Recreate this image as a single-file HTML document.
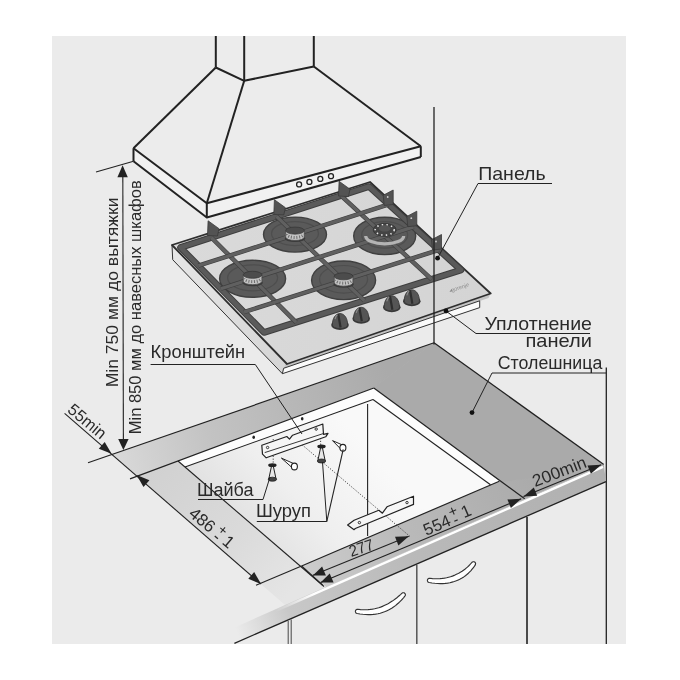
<!DOCTYPE html>
<html><head><meta charset="utf-8"><style>
html,body{margin:0;padding:0;background:#fff;width:680px;height:680px;overflow:hidden}
svg{display:block;filter:grayscale(1)}
</style></head><body>
<svg width="680" height="680" viewBox="0 0 680 680">
<rect x="0" y="0" width="680" height="680" fill="#fff"/>
<rect x="52" y="36" width="574" height="608" fill="#ebebeb"/>
<defs>
<clipPath id="clipBG"><rect x="52" y="36" width="574" height="608"/></clipPath>
<linearGradient id="gTop" gradientUnits="userSpaceOnUse" x1="130" y1="465" x2="285" y2="600">
<stop offset="0" stop-color="#cfcfcf"/><stop offset="0.6" stop-color="#dadada"/><stop offset="1" stop-color="#e5e5e5"/></linearGradient>
<linearGradient id="gBack" gradientUnits="userSpaceOnUse" x1="110" y1="460" x2="390" y2="380">
<stop offset="0" stop-color="#dadada"/><stop offset="0.35" stop-color="#c3c3c3"/><stop offset="1" stop-color="#aaaaaa"/></linearGradient>
<linearGradient id="gFront" gradientUnits="userSpaceOnUse" x1="270" y1="600" x2="540" y2="480">
<stop offset="0" stop-color="#d4d4d4"/><stop offset="0.5" stop-color="#bababa"/><stop offset="1" stop-color="#aaaaaa"/></linearGradient>
<linearGradient id="gFace" gradientUnits="userSpaceOnUse" x1="236" y1="630" x2="600" y2="475">
<stop offset="0" stop-color="#ebebeb"/><stop offset="0.14" stop-color="#c8c8c8"/><stop offset="0.5" stop-color="#b9b9b9"/><stop offset="1" stop-color="#b0b0b0"/></linearGradient>
<linearGradient id="gHL" gradientUnits="userSpaceOnUse" x1="275" y1="612" x2="603" y2="467">
<stop offset="0" stop-color="#fff" stop-opacity="0"/><stop offset="0.12" stop-color="#fff" stop-opacity="1"/><stop offset="1" stop-color="#fff"/></linearGradient>
<linearGradient id="gCut" gradientUnits="userSpaceOnUse" x1="230" y1="580" x2="370" y2="450">
<stop offset="0" stop-color="#d8d8d8"/><stop offset="0.55" stop-color="#efefef"/><stop offset="1" stop-color="#f9f9f9"/></linearGradient>
<linearGradient id="gHobSide" gradientUnits="userSpaceOnUse" x1="172" y1="250" x2="290" y2="370">
<stop offset="0" stop-color="#e6e6e6"/><stop offset="1" stop-color="#d4d4d4"/></linearGradient>
<linearGradient id="gHobTop" gradientUnits="userSpaceOnUse" x1="180" y1="250" x2="480" y2="290">
<stop offset="0" stop-color="#dadada"/><stop offset="1" stop-color="#d4d4d4"/></linearGradient>
</defs>
<g clip-path="url(#clipBG)">
<line x1="606.3" y1="367.5" x2="606.3" y2="644.0" stroke="#222" stroke-width="1.3" />
<polygon points="112.0,454.5 434.0,342.8 603.8,464.5 285.3,605.2" fill="url(#gTop)" stroke="none" stroke-width="1" stroke-linejoin="round" />
<polygon points="112.0,454.5 434.0,342.8 373.8,388.0 136.9,476.3" fill="url(#gBack)" stroke="none" stroke-width="1" stroke-linejoin="round" />
<polygon points="301.6,566.0 500.8,480.6 603.8,464.5 326.4,587.1" fill="url(#gFront)" stroke="none" stroke-width="1" stroke-linejoin="round" />
<polygon points="372.3,388.5 432.5,343.3 434.0,342.8 603.8,464.5 602.8,465.7 500.3,482.4" fill="#aaaaaa" stroke="none" stroke-width="1" stroke-linejoin="round" />
<polygon points="178.0,461.0 373.8,388.0 499.3,481.2 301.6,566.0" fill="url(#gCut)" stroke="none" stroke-width="1" stroke-linejoin="round" />
<polygon points="178.0,461.0 373.8,388.0 373.0,399.5 185.0,467.0" fill="#fdfdfd" stroke="none" stroke-width="1" stroke-linejoin="round" />
<polygon points="373.8,388.0 499.3,481.2 490.5,484.8 373.0,399.5" fill="#fdfdfd" stroke="none" stroke-width="1" stroke-linejoin="round" />
<line x1="185.0" y1="467.0" x2="373.0" y2="399.5" stroke="#222" stroke-width="1.1" />
<line x1="373.0" y1="399.5" x2="490.5" y2="484.8" stroke="#222" stroke-width="1.1" />
<line x1="367.6" y1="404.0" x2="367.6" y2="536.0" stroke="#222" stroke-width="1.1" />
<line x1="88.0" y1="462.8" x2="434.0" y2="342.8" stroke="#222" stroke-width="1.2" />
<line x1="434.0" y1="342.8" x2="603.8" y2="464.5" stroke="#222" stroke-width="1.3" />
<line x1="130.0" y1="478.9" x2="373.8" y2="388.0" stroke="#222" stroke-width="1.2" />
<line x1="373.8" y1="388.0" x2="524.7" y2="498.8" stroke="#222" stroke-width="1.2" />
<line x1="301.6" y1="566.0" x2="499.3" y2="481.2" stroke="#222" stroke-width="1.2" />
<line x1="178.0" y1="461.0" x2="324.0" y2="586.5" stroke="#222" stroke-width="1.1" />
<line x1="256.0" y1="585.3" x2="301.6" y2="566.0" stroke="#222" stroke-width="1.1" />
<polygon points="603.8,464.5 606.0,481.7 234.0,643.5 234.0,627.7" fill="url(#gFace)" stroke="none" stroke-width="1" stroke-linejoin="round" />
<line x1="275.6" y1="610.9" x2="603" y2="466.9" stroke="url(#gHL)" stroke-width="2.4"/>
<line x1="234.4" y1="643.3" x2="606.0" y2="481.7" stroke="#222" stroke-width="1.3" />
<line x1="527.0" y1="517.1" x2="527.0" y2="644.0" stroke="#4a4a4a" stroke-width="2.0" />
<line x1="416.8" y1="565.0" x2="416.8" y2="644.0" stroke="#555" stroke-width="1.5" />
<line x1="288.2" y1="620.9" x2="288.2" y2="644.0" stroke="#555" stroke-width="1.1" />
<line x1="291.2" y1="619.6" x2="291.2" y2="644.0" stroke="#555" stroke-width="1.1" />
<polygon points="429.2,582.5 432.0,583.0 434.8,583.3 437.5,583.5 440.1,583.6 442.7,583.6 445.2,583.4 447.6,583.1 449.9,582.7 452.1,582.1 454.3,581.5 456.3,580.8 458.3,579.9 460.2,579.0 462.0,578.0 463.8,576.9 465.4,575.7 466.9,574.5 468.4,573.2 469.7,571.9 471.0,570.6 472.1,569.2 473.2,567.8 474.3,566.4 475.2,565.1 475.5,564.3 475.6,563.5 475.3,562.7 474.8,562.1 474.0,561.8 473.2,561.7 472.4,562.0 471.8,562.5 470.8,563.7 469.7,564.8 468.6,566.0 467.4,567.1 466.2,568.1 464.9,569.2 463.5,570.2 462.1,571.2 460.7,572.1 459.2,573.0 457.6,573.8 455.9,574.6 454.2,575.4 452.4,576.1 450.5,576.7 448.6,577.2 446.6,577.7 444.5,578.1 442.3,578.4 440.0,578.6 437.6,578.7 435.1,578.7 432.5,578.6 429.8,578.3 429.0,578.4 428.2,578.7 427.7,579.3 427.4,580.1 427.5,580.9 427.8,581.7 428.4,582.2" fill="#fff" stroke="#333" stroke-width="1.15" stroke-linejoin="round" />
<polygon points="357.2,613.5 360.0,614.0 362.8,614.3 365.5,614.5 368.1,614.6 370.7,614.6 373.2,614.4 375.6,614.1 377.9,613.7 380.2,613.2 382.4,612.5 384.5,611.8 386.5,610.9 388.5,610.0 390.3,609.0 392.1,607.9 393.8,606.8 395.5,605.6 397.0,604.3 398.5,603.0 399.9,601.7 401.2,600.3 402.5,599.0 403.7,597.6 404.8,596.2 405.3,595.5 405.4,594.7 405.2,593.9 404.7,593.3 404.0,592.8 403.2,592.7 402.4,592.9 401.8,593.4 400.5,594.6 399.2,595.7 397.9,596.8 396.6,598.0 395.2,599.0 393.7,600.1 392.3,601.1 390.7,602.1 389.2,603.1 387.6,604.0 385.9,604.8 384.2,605.6 382.4,606.4 380.6,607.1 378.7,607.7 376.7,608.2 374.6,608.7 372.5,609.1 370.3,609.4 368.0,609.6 365.6,609.7 363.1,609.7 360.5,609.6 357.8,609.3 357.0,609.4 356.2,609.7 355.7,610.3 355.4,611.1 355.5,611.9 355.8,612.7 356.4,613.2" fill="#fff" stroke="#333" stroke-width="1.15" stroke-linejoin="round" />
<polygon points="215.8,36.0 313.8,36.0 313.8,66.5 420.8,146.2 420.8,157.0 206.8,217.5 133.5,161.2 133.5,148.2 215.8,67.5" fill="#ececec" stroke="none" stroke-width="1" stroke-linejoin="round" />
<polygon points="133.5,148.2 206.8,203.2 420.8,146.2 420.8,157.0 206.8,217.5 133.5,161.2" fill="#f1f1f1" stroke="none" stroke-width="1" stroke-linejoin="round" />
<line x1="215.8" y1="36.0" x2="215.8" y2="67.5" stroke="#222" stroke-width="2.0" />
<line x1="244.2" y1="36.0" x2="244.2" y2="80.8" stroke="#222" stroke-width="2.0" />
<line x1="313.8" y1="36.0" x2="313.8" y2="66.5" stroke="#222" stroke-width="2.0" />
<polyline points="215.8,67.5 244.2,80.8 313.8,66.5" fill="none" stroke="#222" stroke-width="2.0" stroke-linejoin="round" />
<line x1="215.8" y1="67.5" x2="133.5" y2="148.2" stroke="#222" stroke-width="2.0" />
<line x1="244.2" y1="80.8" x2="206.8" y2="203.2" stroke="#222" stroke-width="2.0" />
<line x1="313.8" y1="66.5" x2="420.8" y2="146.2" stroke="#222" stroke-width="2.0" />
<polyline points="133.5,148.2 206.8,203.2 420.8,146.2" fill="none" stroke="#222" stroke-width="2.0" stroke-linejoin="round" />
<polyline points="133.5,161.2 206.8,217.5 420.8,157.0" fill="none" stroke="#222" stroke-width="2.0" stroke-linejoin="round" />
<line x1="133.5" y1="148.2" x2="133.5" y2="161.2" stroke="#222" stroke-width="2.0" />
<line x1="206.8" y1="203.2" x2="206.8" y2="217.5" stroke="#222" stroke-width="2.0" />
<line x1="420.8" y1="146.2" x2="420.8" y2="157.0" stroke="#222" stroke-width="2.0" />
<circle cx="299.1" cy="184.4" r="2.5" fill="none" stroke="#222" stroke-width="1.3"/>
<circle cx="309.4" cy="181.9" r="2.5" fill="none" stroke="#222" stroke-width="1.3"/>
<circle cx="320.3" cy="178.9" r="2.5" fill="none" stroke="#222" stroke-width="1.3"/>
<circle cx="331" cy="176.2" r="2.5" fill="none" stroke="#222" stroke-width="1.3"/>
<polygon points="172.0,245.0 287.0,364.0 282.4,373.7 172.7,259.7" fill="url(#gHobSide)" stroke="#333" stroke-width="1" stroke-linejoin="round" />
<polygon points="285.3,364.0 490.7,293.5 488.5,298.0 284.5,368.5" fill="#c4c4c4" stroke="none" stroke-width="1" stroke-linejoin="round" />
<polygon points="283.6,368.3 479.7,300.8 479.7,307.6 282.4,373.7" fill="#fbfbfb" stroke="#333" stroke-width="1" stroke-linejoin="round" />
<polygon points="172.0,245.0 370.0,182.0 490.7,293.5 287.0,364.0" fill="url(#gHobTop)" stroke="#2e2e2e" stroke-width="1.8" stroke-linejoin="round" />
<ellipse cx="252.6" cy="278.8" rx="33" ry="18.5" fill="#5a5a5a" stroke="#404040" stroke-width="1.4"/>
<ellipse cx="252.6" cy="277.8" rx="25" ry="13.0" fill="none" stroke="#4e4e4e" stroke-width="1.2"/>
<ellipse cx="295" cy="234.6" rx="31.5" ry="17.5" fill="#5a5a5a" stroke="#404040" stroke-width="1.4"/>
<ellipse cx="295" cy="233.6" rx="23.5" ry="12.0" fill="none" stroke="#4e4e4e" stroke-width="1.2"/>
<ellipse cx="384.7" cy="235.9" rx="31" ry="18.7" fill="#5a5a5a" stroke="#404040" stroke-width="1.4"/>
<ellipse cx="384.7" cy="234.9" rx="23" ry="13.2" fill="none" stroke="#4e4e4e" stroke-width="1.2"/>
<ellipse cx="343.6" cy="280.3" rx="32" ry="19.3" fill="#5a5a5a" stroke="#404040" stroke-width="1.4"/>
<ellipse cx="343.6" cy="279.3" rx="24" ry="13.8" fill="none" stroke="#4e4e4e" stroke-width="1.2"/>
<polygon points="180.5,247.5 369.0,186.5 461.0,270.0 264.0,332.5" fill="none" stroke="#3e3e3e" stroke-width="6.6" stroke-linejoin="round" />
<polygon points="180.5,247.5 369.0,186.5 461.0,270.0 264.0,332.5" fill="none" stroke="#5a5a5a" stroke-width="4.6" stroke-linejoin="round" />
<line x1="211.3" y1="237.5" x2="296.2" y2="322.3" stroke="#3e3e3e" stroke-width="4.5" stroke-linecap="butt"/>
<line x1="211.3" y1="237.5" x2="296.2" y2="322.3" stroke="#606060" stroke-width="3.3" stroke-linecap="butt"/>
<line x1="276.5" y1="216.4" x2="364.4" y2="300.7" stroke="#3e3e3e" stroke-width="4.5" stroke-linecap="butt"/>
<line x1="276.5" y1="216.4" x2="364.4" y2="300.7" stroke="#606060" stroke-width="3.3" stroke-linecap="butt"/>
<line x1="341.0" y1="195.6" x2="431.7" y2="279.3" stroke="#3e3e3e" stroke-width="4.5" stroke-linecap="butt"/>
<line x1="341.0" y1="195.6" x2="431.7" y2="279.3" stroke="#606060" stroke-width="3.3" stroke-linecap="butt"/>
<line x1="198.4" y1="265.7" x2="388.7" y2="204.4" stroke="#3e3e3e" stroke-width="4.5" stroke-linecap="butt"/>
<line x1="198.4" y1="265.7" x2="388.7" y2="204.4" stroke="#606060" stroke-width="3.3" stroke-linecap="butt"/>
<line x1="220.9" y1="288.7" x2="413.6" y2="226.9" stroke="#3e3e3e" stroke-width="4.5" stroke-linecap="butt"/>
<line x1="220.9" y1="288.7" x2="413.6" y2="226.9" stroke="#606060" stroke-width="3.3" stroke-linecap="butt"/>
<line x1="243.9" y1="312.1" x2="438.9" y2="249.9" stroke="#3e3e3e" stroke-width="4.5" stroke-linecap="butt"/>
<line x1="243.9" y1="312.1" x2="438.9" y2="249.9" stroke="#606060" stroke-width="3.3" stroke-linecap="butt"/>
<polygon points="207.5,235.5 208.1,220.8 219.0,228.7 217.5,236.0" fill="#535353" stroke="#3a3a3a" stroke-width="0.8" stroke-linejoin="round" />
<polygon points="273.8,214.4 274.4,199.7 285.3,207.6 283.8,214.9" fill="#535353" stroke="#3a3a3a" stroke-width="0.8" stroke-linejoin="round" />
<polygon points="338.5,196.0 339.1,181.3 350.0,189.2 348.5,196.5" fill="#535353" stroke="#3a3a3a" stroke-width="0.8" stroke-linejoin="round" />
<polygon points="393.2,204.5 393.2,190.0 383.2,195.3 384.2,205.5" fill="#535353" stroke="#3a3a3a" stroke-width="0.8" stroke-linejoin="round" />
<circle cx="387.7" cy="197.0" r="0.9" fill="#cfcfcf"/>
<polygon points="416.8,225.7 416.8,211.2 406.8,216.5 407.8,226.7" fill="#535353" stroke="#3a3a3a" stroke-width="0.8" stroke-linejoin="round" />
<circle cx="411.3" cy="218.2" r="0.9" fill="#cfcfcf"/>
<polygon points="441.5,249.0 441.5,234.5 431.5,239.8 432.5,250.0" fill="#535353" stroke="#3a3a3a" stroke-width="0.8" stroke-linejoin="round" />
<circle cx="436.0" cy="241.5" r="0.9" fill="#cfcfcf"/>
<ellipse cx="252.6" cy="282.7" rx="10.3" ry="3.5340000000000003" fill="#3a3a3a"/>
<path d="M243.29999999999998,274.8 L243.29999999999998,281.3 A9.3,3.3480000000000003 0 0 0 261.9,281.3 L261.9,274.8Z" fill="#c4c4c4" stroke="#444" stroke-width="0.7"/>
<path d="M244.29999999999998,278.3 A8.3,3.3480000000000003 0 0 0 260.9,278.3" fill="none" stroke="#6e6e6e" stroke-width="3" stroke-dasharray="1 1.7"/>
<ellipse cx="252.6" cy="274.8" rx="9.3" ry="3.5340000000000003" fill="#4c4c4c" stroke="#333" stroke-width="0.7"/>
<ellipse cx="295" cy="238.5" rx="10.3" ry="3.5340000000000003" fill="#3a3a3a"/>
<path d="M285.7,230.6 L285.7,237.1 A9.3,3.3480000000000003 0 0 0 304.3,237.1 L304.3,230.6Z" fill="#c4c4c4" stroke="#444" stroke-width="0.7"/>
<path d="M286.7,234.1 A8.3,3.3480000000000003 0 0 0 303.3,234.1" fill="none" stroke="#6e6e6e" stroke-width="3" stroke-dasharray="1 1.7"/>
<ellipse cx="295" cy="230.6" rx="9.3" ry="3.5340000000000003" fill="#4c4c4c" stroke="#333" stroke-width="0.7"/>
<path d="M365.7,235.9 A19,8 0 0 0 403.7,235.9" fill="none" stroke="#b4b4b4" stroke-width="3.2"/>
<ellipse cx="384.7" cy="229.9" rx="11.5" ry="6.51" fill="#444" stroke="#333" stroke-width="0.8"/>
<ellipse cx="384.7" cy="229.9" rx="9.5" ry="5.25" fill="none" stroke="#e6e6e6" stroke-width="1.6" stroke-dasharray="1.4 3.2"/>
<ellipse cx="384.7" cy="228.4" rx="5.775" ry="3.15" fill="#555"/>
<ellipse cx="343.6" cy="284.2" rx="10.3" ry="3.5340000000000003" fill="#3a3a3a"/>
<path d="M334.3,276.3 L334.3,282.8 A9.3,3.3480000000000003 0 0 0 352.90000000000003,282.8 L352.90000000000003,276.3Z" fill="#c4c4c4" stroke="#444" stroke-width="0.7"/>
<path d="M335.3,279.8 A8.3,3.3480000000000003 0 0 0 351.90000000000003,279.8" fill="none" stroke="#6e6e6e" stroke-width="3" stroke-dasharray="1 1.7"/>
<ellipse cx="343.6" cy="276.3" rx="9.3" ry="3.5340000000000003" fill="#4c4c4c" stroke="#333" stroke-width="0.7"/>
<ellipse cx="340" cy="325.0" rx="8.8" ry="5" fill="#3a3a3a"/>
<path d="M332.4,325.0 C332.2,318.5 335.5,313.5 340,313.5 C344.5,313.5 347.8,318.5 347.6,325.0 A7.6,3.6 0 0 1 332.4,325.0Z" fill="#555" stroke="#363636" stroke-width="0.8"/>
<path d="M338.2,314.0 L340.6,327.5" stroke="#2e2e2e" stroke-width="2.2"/>
<path d="M335,319.0 Q335.8,315.7 337.4,314.7" stroke="#8c8c8c" stroke-width="1.1" fill="none"/>
<ellipse cx="361.2" cy="318.8" rx="8.8" ry="5" fill="#3a3a3a"/>
<path d="M353.59999999999997,318.8 C353.4,312.3 356.7,307.3 361.2,307.3 C365.7,307.3 369.0,312.3 368.8,318.8 A7.6,3.6 0 0 1 353.59999999999997,318.8Z" fill="#555" stroke="#363636" stroke-width="0.8"/>
<path d="M359.4,307.8 L361.8,321.3" stroke="#2e2e2e" stroke-width="2.2"/>
<path d="M356.2,312.8 Q357.0,309.5 358.59999999999997,308.5" stroke="#8c8c8c" stroke-width="1.1" fill="none"/>
<ellipse cx="391.8" cy="307.3" rx="8.8" ry="5" fill="#3a3a3a"/>
<path d="M384.2,307.3 C384.0,300.8 387.3,295.8 391.8,295.8 C396.3,295.8 399.6,300.8 399.40000000000003,307.3 A7.6,3.6 0 0 1 384.2,307.3Z" fill="#555" stroke="#363636" stroke-width="0.8"/>
<path d="M390.0,296.3 L392.40000000000003,309.8" stroke="#2e2e2e" stroke-width="2.2"/>
<path d="M386.8,301.3 Q387.6,298.0 389.2,297.0" stroke="#8c8c8c" stroke-width="1.1" fill="none"/>
<ellipse cx="411.8" cy="301.3" rx="8.8" ry="5" fill="#3a3a3a"/>
<path d="M404.2,301.3 C404.0,294.8 407.3,289.8 411.8,289.8 C416.3,289.8 419.6,294.8 419.40000000000003,301.3 A7.6,3.6 0 0 1 404.2,301.3Z" fill="#555" stroke="#363636" stroke-width="0.8"/>
<path d="M410.0,290.3 L412.40000000000003,303.8" stroke="#2e2e2e" stroke-width="2.2"/>
<path d="M406.8,295.3 Q407.6,292.0 409.2,291.0" stroke="#8c8c8c" stroke-width="1.1" fill="none"/>
<text x="0" y="0" transform="translate(460.0 287.2) rotate(-19)" font-family="Liberation Sans, sans-serif" font-size="5.5" fill="#8a8a8a" text-anchor="middle" dominant-baseline="central">gorenje</text>
<polygon points="449.5,292.0 451.5,288.8 452.6,291.3" fill="#8a8a8a" stroke="none" stroke-width="1" stroke-linejoin="round" />
<line x1="434.0" y1="107.0" x2="434.0" y2="344.5" stroke="#222" stroke-width="1.3" />
<line x1="298" y1="441.3" x2="410" y2="536.5" stroke="#333" stroke-width="0.9" stroke-dasharray="1.2 1.6"/>
<line x1="273.2" y1="439" x2="273.2" y2="466" stroke="#333" stroke-width="0.9" stroke-dasharray="1.2 1.6"/>
<line x1="320.6" y1="426.8" x2="320.6" y2="447" stroke="#333" stroke-width="0.9" stroke-dasharray="1.2 1.6"/>
<ellipse cx="253.7" cy="437.2" rx="1.3" ry="1.8" fill="#222"/>
<ellipse cx="302.2" cy="418.8" rx="1.3" ry="1.8" fill="#222"/>
<polygon points="261.8,445.3 286.8,436.5 289.5,439.2 292.6,435.2 322.8,424.0 323.5,434.3 328.0,433.3 325.7,436.8 266.2,457.8 262.5,454.1" fill="#f6f6f6" stroke="#222" stroke-width="1.2" stroke-linejoin="round" />
<line x1="264.7" y1="452.6" x2="323.5" y2="433.5" stroke="#222" stroke-width="0.9" />
<circle cx="267.6" cy="447.5" r="1.2" fill="none" stroke="#222" stroke-width="0.9"/>
<circle cx="316.2" cy="429.1" r="1.2" fill="none" stroke="#222" stroke-width="0.9"/>
<polygon points="347.6,525.0 354.1,520.3 378.8,510.3 382.4,513.2 387.0,506.8 413.5,496.2 413.5,504.4 355.3,528.5 354.1,529.7" fill="#f6f6f6" stroke="#222" stroke-width="1.2" stroke-linejoin="round" />
<circle cx="359.4" cy="522.6" r="1.2" fill="none" stroke="#222" stroke-width="0.9"/>
<circle cx="407" cy="502.6" r="1.2" fill="none" stroke="#222" stroke-width="0.9"/>
<path d="M271.5,466.2 L273.29999999999995,466.2 L276.0,478.7 L268.79999999999995,478.7Z" fill="#e8e8e8" stroke="#222" stroke-width="1"/>
<ellipse cx="272.4" cy="465.2" rx="4.2" ry="1.9" fill="#222"/>
<ellipse cx="272.4" cy="479.2" rx="4.2" ry="2.0" fill="#444" stroke="#222" stroke-width="0.8"/>
<path d="M320.6,447.5 L322.4,447.5 L325.1,460.5 L317.9,460.5Z" fill="#e8e8e8" stroke="#222" stroke-width="1"/>
<ellipse cx="321.5" cy="446.5" rx="4.2" ry="1.9" fill="#222"/>
<ellipse cx="321.5" cy="461.0" rx="4.2" ry="2.0" fill="#444" stroke="#222" stroke-width="0.8"/>
<path d="M281.4,458.1 L293.1,468.5 L295.7,464.5Z" fill="#fff" stroke="#222" stroke-width="1"/>
<ellipse cx="294.4" cy="466.5" rx="3" ry="3.4" fill="#fff" stroke="#222" stroke-width="1.1"/>
<path d="M332.5,440.6 L341.5,449.8 L344.3,445.8Z" fill="#fff" stroke="#222" stroke-width="1"/>
<ellipse cx="342.9" cy="447.8" rx="3" ry="3.4" fill="#fff" stroke="#222" stroke-width="1.1"/>
<text x="478.2" y="180.0" font-family="Liberation Sans, sans-serif" font-size="18.5" fill="#2a2a2a" text-anchor="start" textLength="67.5" lengthAdjust="spacingAndGlyphs">Панель</text>
<polyline points="552.0,183.5 478.0,183.5 437.6,258.2" fill="none" stroke="#222" stroke-width="1" stroke-linejoin="round" />
<circle cx="437.6" cy="258.2" r="2.4" fill="#111"/>
<text x="484.5" y="330.3" font-family="Liberation Sans, sans-serif" font-size="18.5" fill="#2a2a2a" text-anchor="start" textLength="107.5" lengthAdjust="spacingAndGlyphs">Уплотнение</text>
<text x="525.5" y="346.8" font-family="Liberation Sans, sans-serif" font-size="18.5" fill="#2a2a2a" text-anchor="start" textLength="66.5" lengthAdjust="spacingAndGlyphs">панели</text>
<polyline points="590.0,333.5 476.0,333.5 446.0,311.0" fill="none" stroke="#222" stroke-width="1" stroke-linejoin="round" />
<circle cx="446" cy="311" r="2.4" fill="#111"/>
<text x="497.8" y="368.6" font-family="Liberation Sans, sans-serif" font-size="18.3" fill="#2a2a2a" text-anchor="start" textLength="104.5" lengthAdjust="spacingAndGlyphs">Столешница</text>
<polyline points="606.0,373.0 492.0,373.0 472.0,412.6" fill="none" stroke="#222" stroke-width="1" stroke-linejoin="round" />
<circle cx="472" cy="412.6" r="2.4" fill="#111"/>
<text x="150.6" y="357.8" font-family="Liberation Sans, sans-serif" font-size="18" fill="#2a2a2a" text-anchor="start" textLength="94.6" lengthAdjust="spacingAndGlyphs">Кронштейн</text>
<polyline points="150.6,364.5 255.3,364.5 302.0,434.0" fill="none" stroke="#222" stroke-width="1" stroke-linejoin="round" />
<text x="197.0" y="496.3" font-family="Liberation Sans, sans-serif" font-size="18" fill="#2a2a2a" text-anchor="start" textLength="56.5" lengthAdjust="spacingAndGlyphs">Шайба</text>
<polyline points="198.0,499.5 263.0,499.5 270.0,477.0" fill="none" stroke="#222" stroke-width="1" stroke-linejoin="round" />
<text x="256.0" y="517.2" font-family="Liberation Sans, sans-serif" font-size="18" fill="#2a2a2a" text-anchor="start" textLength="55" lengthAdjust="spacingAndGlyphs">Шуруп</text>
<polyline points="256.8,521.5 326.8,521.5 322.5,462.0" fill="none" stroke="#222" stroke-width="1" stroke-linejoin="round" />
<line x1="326.8" y1="521.5" x2="343.2" y2="449.4" stroke="#222" stroke-width="1.1" />
<line x1="122.8" y1="168.0" x2="123.4" y2="447.0" stroke="#222" stroke-width="1.1" />
<polygon points="122.6,165.3 127.8,177.3 117.4,177.3" fill="#222" stroke="none" stroke-width="1" stroke-linejoin="round" />
<polygon points="123.4,450.1 118.2,439.1 128.6,439.1" fill="#222" stroke="none" stroke-width="1" stroke-linejoin="round" />
<line x1="96.0" y1="172.0" x2="133.5" y2="161.2" stroke="#222" stroke-width="1.1" />
<text x="117.8" y="387.3" font-family="Liberation Sans, sans-serif" font-size="16.5" fill="#2a2a2a" text-anchor="start" textLength="189.8" lengthAdjust="spacingAndGlyphs" transform="rotate(-90 117.8 387.3)">Min 750 мм до вытяжки</text>
<text x="141.0" y="434.3" font-family="Liberation Sans, sans-serif" font-size="16.5" fill="#2a2a2a" text-anchor="start" textLength="254" lengthAdjust="spacingAndGlyphs" transform="rotate(-90 141.0 434.3)">Min 850 мм до навесных шкафов</text>
<line x1="64.6" y1="413.4" x2="261.0" y2="584.0" stroke="#222" stroke-width="1.1" />
<polygon points="111.6,453.8 98.8,448.7 104.7,441.9" fill="#222" stroke="none" stroke-width="1" stroke-linejoin="round" />
<polygon points="136.6,475.1 149.4,480.2 143.5,487.0" fill="#222" stroke="none" stroke-width="1" stroke-linejoin="round" />
<polygon points="261.0,584.0 248.3,578.8 254.2,572.0" fill="#222" stroke="none" stroke-width="1" stroke-linejoin="round" />
<text x="0" y="0" transform="translate(87.5 421.0) rotate(40)" font-family="Liberation Sans, sans-serif" font-size="16.5" fill="#2a2a2a" text-anchor="middle" dominant-baseline="central" textLength="44.5" lengthAdjust="spacingAndGlyphs">55min</text>
<text x="0" y="0" transform="translate(202.2 520.1) rotate(40)" font-family="Liberation Sans, sans-serif" font-size="17" fill="#2a2a2a" text-anchor="middle" dominant-baseline="central">486</text>
<text x="0" y="0" transform="translate(223.2 529.8) rotate(40)" font-family="Liberation Sans, sans-serif" font-size="14" fill="#2a2a2a" text-anchor="middle" dominant-baseline="central">+</text>
<text x="0" y="0" transform="translate(217.0 536.6) rotate(40)" font-family="Liberation Sans, sans-serif" font-size="17" fill="#2a2a2a" text-anchor="middle" dominant-baseline="central">-</text>
<text x="0" y="0" transform="translate(228.5 542.1) rotate(40)" font-family="Liberation Sans, sans-serif" font-size="17" fill="#2a2a2a" text-anchor="middle" dominant-baseline="central">1</text>
<line x1="312.9" y1="575.3" x2="408.8" y2="536.2" stroke="#222" stroke-width="1.1" />
<polygon points="312.9,575.6 322.1,566.4 325.9,575.6" fill="#222" stroke="none" stroke-width="1" stroke-linejoin="round" />
<polygon points="408.8,536.2 398.4,545.4 395.0,536.8" fill="#222" stroke="none" stroke-width="1" stroke-linejoin="round" />
<line x1="320.6" y1="582.4" x2="521.2" y2="498.8" stroke="#222" stroke-width="1.1" />
<polygon points="320.6,582.6 329.7,573.4 333.6,582.6" fill="#222" stroke="none" stroke-width="1" stroke-linejoin="round" />
<polygon points="521.2,498.8 510.9,508.0 507.4,499.5" fill="#222" stroke="none" stroke-width="1" stroke-linejoin="round" />
<line x1="322.5" y1="585.0" x2="301.6" y2="566.0" stroke="#222" stroke-width="1.1" />
<text x="0" y="0" transform="translate(361.2 547.8) rotate(-19)" font-family="Liberation Sans, sans-serif" font-size="15.8" fill="#2a2a2a" text-anchor="middle" dominant-baseline="central" textLength="25" lengthAdjust="spacingAndGlyphs">277</text>
<text x="0" y="0" transform="translate(437.0 525.3) rotate(-23.3)" font-family="Liberation Sans, sans-serif" font-size="16.8" fill="#2a2a2a" text-anchor="middle" dominant-baseline="central">554</text>
<text x="0" y="0" transform="translate(452.6 510.6) rotate(-23.3)" font-family="Liberation Sans, sans-serif" font-size="15" fill="#2a2a2a" text-anchor="middle" dominant-baseline="central">+</text>
<text x="0" y="0" transform="translate(455.3 519.2) rotate(-23.3)" font-family="Liberation Sans, sans-serif" font-size="15" fill="#2a2a2a" text-anchor="middle" dominant-baseline="central">-</text>
<text x="0" y="0" transform="translate(466.2 511.4) rotate(-23.3)" font-family="Liberation Sans, sans-serif" font-size="16.8" fill="#2a2a2a" text-anchor="middle" dominant-baseline="central">1</text>
<line x1="523.5" y1="496.5" x2="601.2" y2="464.7" stroke="#222" stroke-width="1.1" />
<polygon points="523.5,496.5 533.8,487.4 537.2,495.8" fill="#222" stroke="none" stroke-width="1" stroke-linejoin="round" />
<polygon points="601.2,464.7 590.9,473.8 587.5,465.5" fill="#222" stroke="none" stroke-width="1" stroke-linejoin="round" />
<text x="0" y="0" transform="translate(559.4 471.8) rotate(-21)" font-family="Liberation Sans, sans-serif" font-size="17" fill="#2a2a2a" text-anchor="middle" dominant-baseline="central" textLength="56.5" lengthAdjust="spacingAndGlyphs">200min</text>
</g>
</svg></body></html>
